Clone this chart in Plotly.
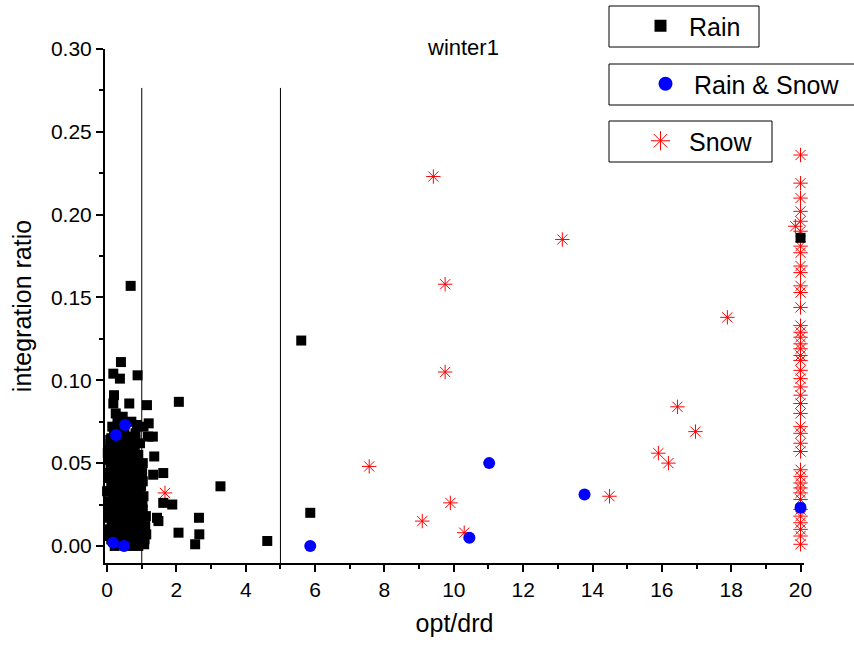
import plotly.graph_objects as go

# ---------------- data ----------------
rain_x = [0.68, 0.40, 0.18, 0.37, 0.88, 0.20, 0.18, 0.64, 1.15, 2.07,
          5.60, 3.27, 4.62, 5.86, 2.54, 2.65, 2.66, 2.06, 1.62, 1.88,
          1.44, 1.48, 1.33, 1.62, 1.36, 1.32, 1.05, 0.86, 0.95, 1.03,
          1.03, 1.03, 1.10, 1.13, 1.07, 20.0,
          0.25, 0.45, 0.70, 0.82, 0.15, 0.35, 0.60, 0.72, 0.50, 0.12, 0.20, 0.30,
          0.10, 0.28, 0.42, 0.55, 0.68, 0.80, 0.90,
          0.08, 0.20, 0.33, 0.47, 0.60, 0.75, 0.88, 0.15, 0.40,
          0.05, 0.22, 0.30, 0.52, 0.65, 0.78, 0.92, 0.12, 0.45, 0.85, 0.98,
          0.03, 0.18, 0.35, 0.55, 0.70, 0.82, 0.95, 0.10, 0.28, 0.48, 0.62, 0.88,
          0.05, 0.20, 0.38, 0.58, 0.72, 0.90, 0.15, 0.30, 0.45, 0.65, 0.80, 1.00,
          0.08, 0.25, 0.40, 0.55, 0.70, 0.85, 0.12, 0.35, 0.60, 0.78, 0.95,
          0.22, 0.50, 0.68, 0.90, 0.04, 0.06, 0.10, 0.14, 0.24, 0.32, 0.38,
          0.43, 0.52, 0.57, 0.63, 0.75, 0.84, 0.93, 1.02,
          0.00, 0.02, 0.07, 0.16, 0.26, 0.36, 0.46, 0.56, 0.66, 0.76, 0.86, 0.96,
          0.03, 0.13, 0.23, 0.33, 0.43, 0.53, 0.63, 0.73, 0.83, 0.93, 1.05, 1.12,
          0.06, 0.17, 0.27, 0.39, 0.49, 0.59, 0.69, 0.79, 0.89, 0.99, 1.08,
          0.09, 0.19, 0.29, 0.41, 0.51, 0.61, 0.71, 0.81, 0.91, 1.01, 1.18, 1.20]
rain_y = [0.157, 0.111, 0.104, 0.101, 0.103, 0.091, 0.086, 0.086, 0.085, 0.087,
          0.124, 0.036, 0.003, 0.020, 0.001, 0.017, 0.007, 0.008, 0.026, 0.025,
          0.017, 0.015, 0.043, 0.044, 0.054, 0.066, 0.072, 0.073, 0.062, 0.050,
          0.039, 0.022, 0.012, 0.007, 0.001, 0.186,
          0.080, 0.078, 0.075, 0.068, 0.072, 0.070, 0.066, 0.063, 0.068, 0.065, 0.068, 0.075,
          0.061, 0.060, 0.058, 0.061, 0.057, 0.059, 0.055,
          0.052, 0.055, 0.050, 0.053, 0.049, 0.051, 0.047, 0.046, 0.045,
          0.041, 0.042, 0.038, 0.041, 0.043, 0.039, 0.041, 0.036, 0.035, 0.034, 0.036,
          0.033, 0.031, 0.029, 0.032, 0.030, 0.028, 0.030, 0.026, 0.025, 0.024, 0.026, 0.023,
          0.021, 0.019, 0.020, 0.018, 0.021, 0.017, 0.015, 0.014, 0.013, 0.012, 0.014, 0.016,
          0.010, 0.009, 0.007, 0.008, 0.006, 0.009, 0.004, 0.003, 0.002, 0.001, 0.003,
          0.000, 0.001, 0.000, 0.000, 0.058, 0.027, 0.048, 0.022, 0.034, 0.044, 0.011,
          0.028, 0.037, 0.020, 0.053, 0.044, 0.005, 0.046, 0.026,
          0.033, 0.056, 0.044, 0.038, 0.047, 0.063, 0.040, 0.045, 0.035, 0.060, 0.040, 0.048,
          0.017, 0.011, 0.024, 0.019, 0.025, 0.015, 0.019, 0.013, 0.020, 0.011, 0.030, 0.018,
          0.006, 0.003, 0.013, 0.005, 0.010, 0.004, 0.011, 0.006, 0.005, 0.009, 0.004,
          0.064, 0.046, 0.054, 0.066, 0.058, 0.055, 0.048, 0.064, 0.050, 0.044, 0.066, 0.074]

rs_x = [11.02, 13.77, 10.45, 5.86, 20.0, 0.52, 0.26, 0.17, 0.49]
rs_y = [0.050, 0.031, 0.005, 0.000, 0.023, 0.073, 0.067, 0.002, 0.000]

snow_x = [9.41, 13.13, 9.75, 9.75, 17.89, 16.45, 16.97, 15.90, 16.19, 7.56,
          14.49, 9.90, 9.09, 10.30, 1.67, 19.85,
          20, 20, 20, 20, 20, 20, 20, 20, 20, 20, 20, 20, 20, 20, 20, 20, 20,
          20, 20, 20, 20, 20, 20, 20, 20, 20, 20, 20, 20, 20, 20, 20, 20, 20,
          20, 20, 20, 20, 20, 20, 20, 20]
snow_y = [0.223, 0.185, 0.158, 0.105, 0.138, 0.084, 0.069, 0.056, 0.050, 0.048,
          0.030, 0.026, 0.015, 0.008, 0.032, 0.193,
          0.236, 0.219, 0.210, 0.202, 0.196, 0.190, 0.181, 0.177, 0.169, 0.165,
          0.157, 0.153, 0.144, 0.133, 0.129, 0.126, 0.122, 0.119, 0.115, 0.112,
          0.106, 0.101, 0.096, 0.091, 0.086, 0.080, 0.072, 0.068, 0.062, 0.057,
          0.046, 0.042, 0.038, 0.035, 0.032, 0.028, 0.022, 0.018, 0.014, 0.010,
          0.006, 0.001]

series_names = ["Rain", "Rain & Snow", "Snow"]
x_tickvals = [0, 2, 4, 6, 8, 10, 12, 14, 16, 18, 20]
y_tickvals = [0.00, 0.05, 0.10, 0.15, 0.20, 0.25, 0.30]
y_ticktext = ["0.00", "0.05", "0.10", "0.15", "0.20", "0.25", "0.30"]
divider_x = [1, 5]

# ---------------- figure ----------------
FONT = "Liberation Sans, Arial, sans-serif"
fig = go.Figure()

sym = {
    "Rain": dict(symbol="square", color="black", line=dict(width=0)),
    "Rain & Snow": dict(symbol="circle", color="#0000ff", line=dict(width=0)),
    "Snow": dict(symbol="asterisk-open", color="#ff0000", line=dict(width=1, color="#ff0000")),
}
plot_size = {"Rain": 10, "Rain & Snow": 12, "Snow": 12}
legend_size = {"Rain": 12, "Rain & Snow": 14, "Snow": 17}
legend_ids = {"Rain": "legend", "Rain & Snow": "legend2", "Snow": "legend3"}
data = {"Rain": (rain_x, rain_y), "Rain & Snow": (rs_x, rs_y), "Snow": (snow_x, snow_y)}

# draw order: snow below, then rain, then rain & snow on top
for nm in ["Snow", "Rain", "Rain & Snow"]:
    xs, ys = data[nm]
    fig.add_trace(go.Scatter(x=xs, y=ys, mode="markers", name=nm, showlegend=False,
                             marker=dict(size=plot_size[nm], **sym[nm]), cliponaxis=False))
# legend entries (no data of their own)
for nm in series_names:
    fig.add_trace(go.Scatter(x=[None], y=[None], mode="markers", name=nm,
                             legend=legend_ids[nm], showlegend=True,
                             marker=dict(size=legend_size[nm], **sym[nm])))

L, R, T, B = 105, 50, 49, 83
W, H = 854, 646
pw, ph = W - L - R, H - T - B

def px_x(p):
    return (p - L) / pw

def px_y(p):
    return (H - B - p) / ph

ymin, ymax = -0.0103, 0.30

shapes = []
for dx in divider_x:
    shapes.append(dict(type="line", xref="x", yref="y", x0=dx, x1=dx,
                       y0=ymin, y1=0.2765, line=dict(color="black", width=1)))
# legend boxes
for (x0, y0, x1, y1) in [(609, 6, 759, 47), (609, 64, 860, 105), (609, 121, 772, 162)]:
    shapes.append(dict(type="rect", xref="paper", yref="paper",
                       x0=px_x(x0), x1=px_x(x1), y0=px_y(y1), y1=px_y(y0),
                       line=dict(color="black", width=1), fillcolor="rgba(0,0,0,0)"))

def leg(mx, my):
    return dict(x=px_x(mx - 26), y=px_y(my), xanchor="left", yanchor="middle",
                bgcolor="rgba(0,0,0,0)", borderwidth=0, itemwidth=47,
                font=dict(family=FONT, size=25, color="black"),
                itemsizing="trace")

fig.update_layout(
    width=W, height=H,
    margin=dict(l=L, r=R, t=T, b=B, autoexpand=False),
    paper_bgcolor="white", plot_bgcolor="white",
    font=dict(family=FONT, color="black"),
    shapes=shapes,
    showlegend=True,
    legend=leg(658, 26), legend2=leg(663, 84), legend3=leg(658, 141),
    annotations=[dict(text="winter1", xref="paper", yref="paper",
                      x=px_x(463), y=px_y(47), xanchor="center", yanchor="middle",
                      showarrow=False, font=dict(family=FONT, size=22, color="black"))],
    xaxis=dict(range=[-0.06, 20.1], showgrid=False, zeroline=False,
               showline=True, linecolor="black", linewidth=2,
               tickmode="array", tickvals=x_tickvals,
               ticks="outside", ticklen=7, tickwidth=2, tickcolor="black",
               minor=dict(dtick=1, ticklen=4, tickwidth=2, tickcolor="black", ticks="outside"),
               tickfont=dict(family=FONT, size=21),
               title=dict(text="opt/drd", font=dict(family=FONT, size=25), standoff=14)),
    yaxis=dict(range=[ymin, ymax], showgrid=False, zeroline=False,
               showline=True, linecolor="black", linewidth=2,
               tickmode="array", tickvals=y_tickvals, ticktext=y_ticktext,
               ticks="outside", ticklen=7, tickwidth=2, tickcolor="black",
               minor=dict(tickvals=[0.025, 0.075, 0.125, 0.175, 0.225, 0.275],
                          ticklen=4, tickwidth=2, tickcolor="black", ticks="outside"),
               tickfont=dict(family=FONT, size=21),
               title=dict(text="integration ratio", font=dict(family=FONT, size=25), standoff=12)),
)

fig.write_html("out.html")
